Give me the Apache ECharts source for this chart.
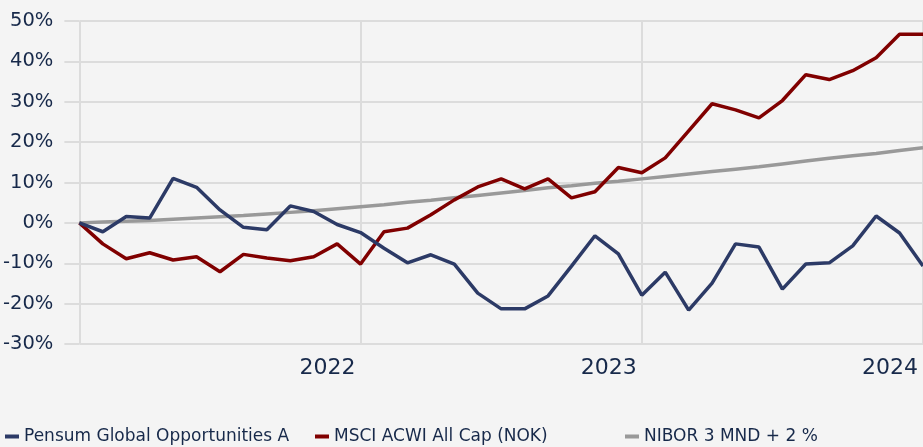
<!DOCTYPE html>
<html>
<head>
<meta charset="utf-8">
<script src="https://cdn.jsdelivr.net/npm/echarts@6/dist/echarts.min.js"></script>
<style>
  html, body { margin: 0; padding: 0; background: #f4f4f4; }
  #chart { width: 923px; height: 447px; }
</style>
</head>
<body>
<div id="chart"></div>
<script>
// monthly points, Jan 2021 .. Jan 2024
const months = [
  '2021-01', '2021-02', '2021-03', '2021-04', '2021-05', '2021-06', '2021-07', '2021-08', '2021-09', '2021-10', '2021-11', '2021-12',
  '2022-01', '2022-02', '2022-03', '2022-04', '2022-05', '2022-06', '2022-07', '2022-08', '2022-09', '2022-10', '2022-11', '2022-12',
  '2023-01', '2023-02', '2023-03', '2023-04', '2023-05', '2023-06', '2023-07', '2023-08', '2023-09', '2023-10', '2023-11', '2023-12',
  '2024-01'
]

const pensum = [
  0, -2.2, 1.6, 1.2, 11.0, 8.8, 3.2, -1.1, -1.7, 4.2, 2.8, -0.4,
  -2.4, -6.3, -9.9, -7.9, -10.2, -17.4, -21.3, -21.3, -18.1, -10.7, -3.2, -7.7,
  -17.9, -12.2, -21.6, -14.9, -5.2, -6.0, -16.4, -10.2, -9.9, -5.7, 1.7, -2.5,
  -10.7
]

const msci = [
  0, -5.2, -8.9, -7.4, -9.2, -8.4, -12.1, -7.8, -8.7, -9.4, -8.4, -5.2,
  -10.2, -2.2, -1.3, 2.0, 5.7, 8.9, 10.9, 8.4, 10.9, 6.2, 7.7, 13.7,
  12.4, 16.1, 22.8, 29.5, 28.0, 26.0, 30.3, 36.7, 35.5, 37.7, 40.9, 46.7,
  46.7
]

const nibor = [
  0, 0.2, 0.4, 0.6, 0.9, 1.2, 1.5, 1.8, 2.2, 2.6, 3.0, 3.5,
  4.0, 4.5, 5.1, 5.6, 6.2, 6.8, 7.4, 8.0, 8.7, 9.2, 9.8, 10.3,
  10.9, 11.5, 12.1, 12.7, 13.3, 13.9, 14.6, 15.3, 16.0, 16.6, 17.2, 17.9,
  18.6
]

const names = ['Pensum Global Opportunities A', 'MSCI ACWI All Cap (NOK)', 'NIBOR 3 MND + 2 %']
const colors = ['#2c3a66', '#800000', '#999999']

const textColor = '#17294a'
const gridColor = '#dcdcdc'
const font = 'DejaVu Sans'

const yearStart = function (index) { return index % 12 === 0 }

const chart = echarts.init(document.getElementById('chart'))

const legendFor = (name, left) => ({
  data: [name],
  left: left,
  top: 428,
  padding: 0,
  icon: 'rect',
  itemWidth: 14,
  itemHeight: 4,
  selectedMode: false,
  textStyle: { fontFamily: font, fontSize: 17, color: textColor }
})

chart.setOption({
  backgroundColor: '#f4f4f4',
  animation: false,
  color: colors,
  grid: { left: 77, right: 0, top: 21, bottom: 103, containLabel: false },
  legend: [
    legendFor(names[0], 5),
    legendFor(names[1], 315),
    legendFor(names[2], 625)
  ],
  xAxis: {
    type: 'category',
    data: months,
    boundaryGap: false,
    axisLine: { show: false },
    axisTick: {
      show: true,
      interval: yearStart,
      length: 13,
      lineStyle: { color: gridColor, width: 2 }
    },
    splitLine: {
      show: true,
      interval: yearStart,
      lineStyle: { color: gridColor, width: 2 }
    },
    axisLabel: {
      interval: function (index) { return index > 0 && index % 12 === 0 },
      formatter: function (v) { return v.slice(0, 4) },
      align: 'right',
      padding: [0, 5, 0, 0],
      margin: 13,
      fontFamily: font,
      fontSize: 22,
      color: textColor
    }
  },
  yAxis: {
    type: 'value',
    min: -30,
    max: 50,
    interval: 10,
    axisLine: { show: false },
    axisTick: {
      show: true,
      length: 15,
      lineStyle: { color: gridColor, width: 2 }
    },
    splitLine: { lineStyle: { color: gridColor, width: 2 } },
    axisLabel: {
      formatter: '{value}%',
      margin: 26,
      fontFamily: font,
      fontSize: 19.5,
      color: textColor
    }
  },
  series: [
    { name: names[0], type: 'line', data: pensum, symbol: 'none', lineStyle: { width: 3.5, color: colors[0] }, z: 4 },
    { name: names[1], type: 'line', data: msci, symbol: 'none', lineStyle: { width: 3.5, color: colors[1] }, z: 3 },
    { name: names[2], type: 'line', data: nibor, symbol: 'none', lineStyle: { width: 3.5, color: colors[2] }, z: 2 }
  ]
})
</script>
</body>
</html>
